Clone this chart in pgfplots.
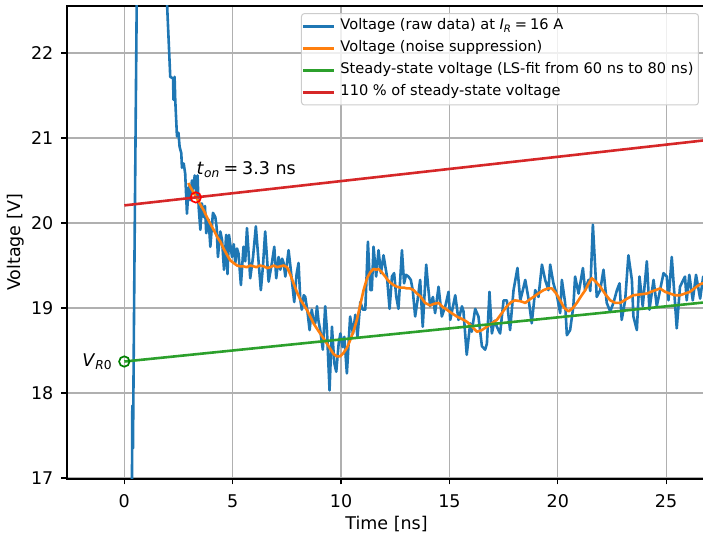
\documentclass[border=0pt]{standalone}
\usepackage{pgfplots}
\pgfplotsset{compat=1.18}
\usepackage{fontspec}
\setmainfont{DejaVu Sans}

\definecolor{tabblue}{HTML}{1F77B4}
\definecolor{taborange}{HTML}{FF7F0E}
\definecolor{tabgreen}{HTML}{2CA02C}
\definecolor{tabred}{HTML}{D62728}
\definecolor{gridgray}{HTML}{B0B0B0}
\definecolor{mgreen}{HTML}{008000}

\newcommand{\bigfont}{\fontsize{17.5bp}{20bp}\selectfont}

\begin{document}
\begin{tikzpicture}
\useasboundingbox (0,0) rectangle (703bp,533bp);
\begin{axis}[
  at={(67bp,54bp)}, anchor=south west,
  scale only axis, width=639bp, height=473bp,
  xmin=-2.644, xmax=26.84, ymin=16.988, ymax=22.553,
  xtick={0,5,10,15,20,25}, ytick={17,18,19,20,21,22},
  grid=major,
  major grid style={draw=gridgray, line width=1.1bp},
  axis line style={line width=1.1bp},
  tick align=outside, tick pos=left,
  major tick length=5.5bp,
  tick style={black, line width=1.1bp},
  /pgf/number format/assume math mode=true,
  tick label style={font=\bigfont},
  yticklabel style={anchor=east, inner sep=0pt, xshift=-8bp},
  xticklabel style={anchor=north, inner sep=0pt, yshift=-10bp},
  xlabel={Time [ns]}, ylabel={Voltage [V]},
  label style={font=\bigfont},
  xlabel style={at={(axis description cs:0.5,-0.1063)}, anchor=base, inner sep=0pt},
  ylabel style={at={(axis description cs:-0.0728,0.5)}, anchor=base, inner sep=0pt},
  legend cell align=left,
  legend style={
    at={(axis description cs:0.989,0.985)}, anchor=north east,
    draw=black!20, line width=1bp, rounded corners=3bp,
    fill=white, fill opacity=0.8, text opacity=1, draw opacity=1,
    font=\fontsize{14.6bp}{16bp}\selectfont,
    inner xsep=0bp, inner ysep=3.5bp,
    row sep=3.6bp,
    nodes={inner xsep=5bp, inner ysep=2bp, text height=10.8bp, text depth=3.6bp},
  },
  legend image code/.code={\draw[#1, line width=3bp, sharp corners, opacity=1] (0bp,0bp) -- (31bp,0bp);},
]

% legend entries
\addlegendimage{tabblue}
\addlegendentry{Voltage (raw data) at \textit{I}\textsubscript{\textit{R}}\hspace{0.22em}=\hspace{0.22em}16 A}
\addlegendimage{taborange}
\addlegendentry{Voltage (noise suppression)}
\addlegendimage{tabgreen}
\addlegendentry{Steady-state voltage (LS-fit from 60 ns to 80 ns)}
\addlegendimage{tabred}
\addlegendentry{110 \% of steady-state voltage}

% raw measurement
\addplot[tabblue, line width=2.6bp, line join=round, forget plot] coordinates {
(0.30,14.0) (0.37,17.85) (0.40,17.35) (0.47,19.6) (0.58,22.8) (0.9,25.5) (1.4,25.8) (1.90,23.0)
(2.12,21.72) (2.25,21.70) (2.27,21.45) (2.32,21.72) (2.35,21.45) (2.43,21.02) (2.50,21.06)
(2.55,20.90) (2.63,20.82) (2.66,20.65) (2.74,20.70) (2.81,20.58) (2.89,20.11) (2.97,20.42)
(3.04,20.27) (3.12,20.50) (3.17,20.40) (3.25,20.56) (3.33,20.30) (3.38,20.56) (3.43,20.19)
(3.51,19.92) (3.58,20.23) (3.66,20.07) (3.72,20.20) (3.78,19.88) (3.89,20.04) (3.97,19.72)
(4.09,20.12) (4.20,20.07) (4.26,19.95) (4.32,19.60) (4.43,19.90) (4.51,19.80) (4.60,19.45)
(4.70,19.86) (4.76,19.40) (4.83,19.86) (4.97,19.60) (5.05,19.75) (5.12,19.53) (5.20,19.70)
(5.27,19.64) (5.38,19.27) (5.50,19.72) (5.58,19.55) (5.66,19.94) (5.81,19.35) (5.94,19.60)
(6.07,19.96) (6.20,19.53) (6.30,19.21) (6.40,19.50) (6.50,19.90) (6.58,19.60) (6.66,19.31)
(6.81,19.53) (6.92,19.72) (7.01,19.35) (7.12,19.60) (7.20,19.45) (7.28,19.58) (7.35,19.53)
(7.43,19.37) (7.58,19.68) (7.66,19.50) (7.73,19.33) (7.84,19.07) (7.95,19.40) (8.04,19.53)
(8.12,19.10) (8.19,18.98) (8.28,19.15) (8.35,19.13) (8.45,18.96) (8.55,18.74) (8.65,18.98)
(8.73,18.85) (8.81,18.82) (8.89,19.02) (8.96,18.85) (9.04,18.74) (9.16,18.51) (9.27,19.02)
(9.35,18.74) (9.47,18.03) (9.58,18.78) (9.69,18.35) (9.78,18.25) (9.89,18.58) (9.97,18.70)
(10.07,18.54) (10.15,18.66) (10.27,18.23) (10.42,18.90) (10.55,18.70) (10.66,18.92) (10.76,18.66)
(10.89,19.07) (11.01,18.98) (11.12,18.98) (11.24,19.78) (11.35,19.21) (11.42,19.21) (11.50,19.72)
(11.62,19.37) (11.73,19.68) (11.84,19.41) (11.96,19.62) (12.12,19.37) (12.24,18.99) (12.35,19.37)
(12.45,19.41) (12.55,19.13) (12.65,18.99) (12.81,19.68) (12.91,19.29) (13.00,19.39) (13.11,19.37)
(13.22,19.33) (13.31,19.21) (13.42,18.90) (13.53,19.09) (13.65,19.33) (13.77,18.78) (13.93,19.51)
(14.02,19.25) (14.11,19.02) (14.24,19.13) (14.34,18.94) (14.50,19.25) (14.65,18.90) (14.81,19.02)
(14.96,19.19) (15.04,18.86) (15.27,19.15) (15.42,18.86) (15.58,19.02) (15.65,18.96) (15.80,18.45)
(15.96,18.82) (16.03,18.72) (16.19,18.99) (16.34,18.90) (16.50,18.55) (16.65,18.51) (16.73,18.58)
(16.85,19.19) (16.96,18.70) (17.08,18.85) (17.19,18.78) (17.34,18.70) (17.50,19.09) (17.65,19.09)
(17.80,18.74) (17.96,19.21) (18.14,19.47) (18.27,19.09) (18.38,19.20) (18.50,19.33) (18.65,19.11)
(18.80,18.82) (18.96,19.21) (19.11,19.13) (19.27,19.51) (19.42,19.33) (19.57,19.21) (19.65,19.51)
(19.80,19.29) (19.96,19.15) (20.11,18.94) (20.19,19.33) (20.34,19.06) (20.42,18.68) (20.57,18.74)
(20.72,19.02) (20.80,19.37) (20.96,19.17) (21.16,19.47) (21.26,19.21) (21.42,19.33) (21.50,19.20)
(21.62,19.98) (21.80,19.13) (21.96,19.21) (22.11,19.45) (22.26,19.06) (22.42,18.96) (22.57,19.06)
(22.73,19.21) (22.85,19.29) (22.95,18.86) (23.11,19.09) (23.26,19.62) (23.42,19.33) (23.49,18.90)
(23.65,18.74) (23.77,19.37) (23.92,19.02) (24.11,19.55) (24.23,18.98) (24.42,19.33) (24.57,19.02)
(24.72,19.21) (24.88,19.41) (25.03,19.37) (25.11,19.09) (25.26,19.60) (25.41,19.06) (25.49,18.76)
(25.64,19.25) (25.87,19.37) (25.95,19.09) (26.07,19.39) (26.23,19.09) (26.38,19.39) (26.57,19.11)
(26.71,19.37) (26.90,19.25)
};

% smoothed signal
\addplot[taborange, line width=2.6bp, line join=round, forget plot] coordinates {
(2.95,20.47) (3.10,20.40) (3.32,20.30) (3.50,20.22) (3.66,20.15) (3.81,20.07) (3.95,20.00)
(4.12,19.92) (4.30,19.83) (4.43,19.78) (4.58,19.70) (4.75,19.62) (4.89,19.56) (5.04,19.53)
(5.20,19.50) (5.35,19.49) (5.50,19.49) (5.65,19.48) (5.81,19.50) (5.96,19.49) (6.10,19.48)
(6.25,19.50) (6.43,19.49) (6.60,19.47) (6.73,19.48) (6.90,19.50) (7.05,19.48) (7.20,19.49)
(7.35,19.50) (7.51,19.48) (7.65,19.40) (7.81,19.29) (7.96,19.19) (8.12,19.10) (8.27,19.04)
(8.42,18.98) (8.58,18.90) (8.73,18.82) (8.88,18.76) (9.04,18.70) (9.20,18.64) (9.35,18.58)
(9.50,18.52) (9.65,18.46) (9.81,18.43) (9.96,18.43) (10.11,18.47) (10.27,18.53) (10.42,18.62)
(10.58,18.73) (10.73,18.86) (10.89,19.04) (11.04,19.21) (11.20,19.35) (11.35,19.42) (11.50,19.46)
(11.62,19.45) (11.73,19.46) (11.88,19.42) (12.04,19.37) (12.15,19.33) (12.27,19.30) (12.42,19.27)
(12.58,19.25) (12.73,19.24) (12.90,19.24) (13.04,19.23) (13.19,19.23) (13.35,19.21) (13.50,19.17)
(13.65,19.14) (13.88,19.06) (14.11,19.03) (14.30,19.05) (14.50,19.06) (14.70,19.01) (14.88,18.98)
(15.10,18.94) (15.34,18.90) (15.58,18.87) (15.80,18.84) (16.05,18.78) (16.27,18.72) (16.50,18.74)
(16.73,18.78) (16.96,18.82) (17.19,18.86) (17.42,18.94) (17.65,19.02) (17.85,19.07) (18.03,19.09)
(18.27,19.08) (18.50,19.06) (18.70,19.10) (18.88,19.13) (19.10,19.17) (19.34,19.21) (19.55,19.23)
(19.73,19.23) (19.93,19.17) (20.11,19.09) (20.30,19.00) (20.50,18.96) (20.70,19.00) (20.88,19.06)
(21.08,19.14) (21.27,19.21) (21.45,19.30) (21.57,19.35) (21.75,19.31) (21.96,19.25) (22.20,19.16)
(22.42,19.09) (22.65,19.06) (22.88,19.06) (23.20,19.11) (23.49,19.15) (23.80,19.16) (24.11,19.17)
(24.40,19.20) (24.72,19.23) (24.95,19.19) (25.18,19.17) (25.40,19.15) (25.64,19.15) (25.87,19.17)
(26.10,19.19) (26.35,19.24) (26.57,19.28) (26.80,19.30)
};

% steady-state fit and 110 % threshold
\addplot[tabgreen, line width=2.6bp, forget plot] coordinates {(0,18.37) (26.9,19.069)};
\addplot[tabred, line width=2.6bp, forget plot] coordinates {(0,20.207) (26.9,20.976)};

% markers
\addplot[only marks, mark=o, mark size=5.2bp, mgreen, line width=1.7bp, forget plot] coordinates {(0,18.37)};
\addplot[only marks, mark=o, mark size=5.2bp, red, line width=1.7bp, forget plot] coordinates {(3.3,20.301)};

\node[anchor=base west, inner sep=0pt, font=\bigfont]
  at (axis cs:3.33,20.565) {\textit{t}\textsubscript{\textit{on}}\hspace{0.22em}=\hspace{0.22em}3.3 ns};
\node[anchor=base east, inner sep=0pt, font=\bigfont]
  at (axis cs:-0.55,18.31) {\textit{V}\textsubscript{\textit{R}0}};
\end{axis}
\end{tikzpicture}
\end{document}
